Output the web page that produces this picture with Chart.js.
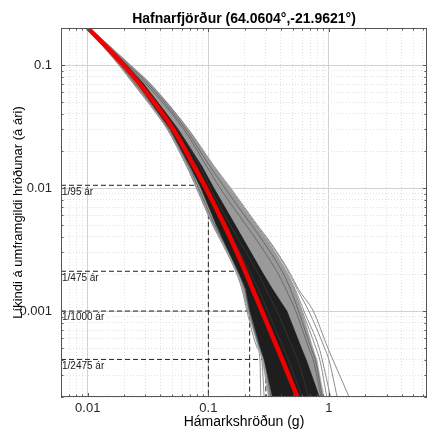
<!DOCTYPE html>
<html><head><meta charset="utf-8">
<script src="https://cdn.jsdelivr.net/npm/chart.js@4.4.1/dist/chart.umd.min.js"></script>
<style>html,body{margin:0;padding:0;background:#fff}canvas{display:block}</style>
</head><body>
<canvas id="c" width="428" height="431"></canvas>
<script>
// ---------- text ----------
const titleText = 'Hafnarfjörður (64.0604°,-21.9621°)';
const xTitle = 'Hámarkshröðun (g)';
const yTitle = 'Líkindi á umframgildi hröðunar (á ári)';

// ---------- axes ----------
const xMin = 0.006, xMax = 6.5, yMin = 0.0002, yMax = 0.2;
const xTickValues = [0.006,0.007,0.008,0.009,0.01,0.02,0.03,0.04,0.05,0.06,0.07,0.08,0.09,0.1,0.2,0.3,0.4,0.5,0.6,0.7,0.8,0.9,1,2,3,4,5,6];
const xLabelValues = [0.01, 0.1, 1];
const xLabelTexts = ['0.01', '0.1', '1'];
const yTickValues = [0.0002,0.0003,0.0004,0.0005,0.0006,0.0007,0.0008,0.0009,0.001,0.002,0.003,0.004,0.005,0.006,0.007,0.008,0.009,0.01,0.02,0.03,0.04,0.05,0.06,0.07,0.08,0.09,0.1,0.2];
const yLabelValues = [0.001, 0.01, 0.1];
const yLabelTexts = ['0.001', '0.01', '0.1'];

// ---------- hazard curves (x in g at each exceedance level) ----------
const yLevels   = [0.2, 0.1, 0.07, 0.03, 0.015, 0.01, 0.005, 0.0035, 0.002, 0.0015, 0.001, 0.0005, 0.0004, 0.0002];
const meanX     = [0.0100, 0.0198, 0.0270, 0.0512, 0.0761, 0.0953, 0.1355, 0.1606, 0.2067, 0.2332, 0.2780, 0.3738, 0.4106, 0.5477];
// envelope of the bundle of branch curves
const outerLowX = [0.0100, 0.0183, 0.0243, 0.0461, 0.0666, 0.0803, 0.1098, 0.1327, 0.1740, 0.1926, 0.2127, 0.2600, 0.2801, 0.3147];
const outerHighX= [0.0104, 0.0222, 0.0327, 0.0676, 0.1090, 0.1480, 0.2478, 0.3239, 0.4568, 0.5222, 0.5969, 0.7366, 0.7951, 0.9090];
const coreLowX  = [0.0100, 0.0191, 0.0260, 0.0483, 0.0705, 0.0867, 0.1163, 0.1378, 0.1808, 0.2039, 0.2210, 0.2701, 0.2910, 0.3397];
const coreHighX = [0.0102, 0.0210, 0.0292, 0.0563, 0.0886, 0.1111, 0.1672, 0.2059, 0.2860, 0.3416, 0.4482, 0.5913, 0.6494, 0.8341];
// individual branch curves visible at the edges
const edgeCurves = [
  [0.0104, 0.0226, 0.0333, 0.0685, 0.112, 0.153, 0.255, 0.335, 0.48, 0.56, 0.74, 0.98, 1.08, 1.47],
  [0.0104, 0.0224, 0.0330, 0.0680, 0.110, 0.150, 0.250, 0.330, 0.47, 0.545, 0.68, 0.92, 1.00, 1.17],
  [0.0103, 0.0222, 0.0327, 0.0670, 0.108, 0.146, 0.245, 0.320, 0.455, 0.525, 0.62, 0.83, 0.88, 1.03],
  [0.0103, 0.0220, 0.0322, 0.0660, 0.105, 0.142, 0.238, 0.310, 0.44, 0.51, 0.60, 0.78, 0.84, 0.96],
  [0.0100, 0.0181, 0.0240, 0.0456, 0.0660, 0.0795, 0.1085, 0.131, 0.172, 0.190, 0.209, 0.255, 0.268, 0.272],
  [0.0100, 0.0182, 0.0244, 0.0462, 0.0668, 0.0805, 0.1100, 0.134, 0.176, 0.195, 0.214, 0.262, 0.278, 0.290]
];
const midCurves = [
  [0.0102, 0.0212, 0.0305, 0.0625, 0.097, 0.125, 0.205, 0.265, 0.38, 0.44, 0.53, 0.68, 0.74, 0.86],
  [0.0103, 0.0218, 0.0318, 0.0650, 0.103, 0.137, 0.228, 0.295, 0.42, 0.48, 0.56, 0.71, 0.77, 0.88],
  [0.0101, 0.0186, 0.0250, 0.0472, 0.069, 0.083, 0.113, 0.137, 0.180, 0.201, 0.219, 0.268, 0.292, 0.33]
];
const darkCurves = [
  [0.0101, 0.0204, 0.0284, 0.0555, 0.085, 0.104, 0.152, 0.188, 0.26, 0.30, 0.37, 0.50, 0.55, 0.68],
  [0.0101, 0.0200, 0.0276, 0.0535, 0.080, 0.098, 0.140, 0.168, 0.225, 0.26, 0.31, 0.42, 0.46, 0.60]
];

// ---------- return-period reference lines ----------
const refLevels = [1/95, 1/475, 1/1000, 1/2475];
const refLabels = ['1/95 ár', '1/475 ár', '1/1000 ár', '1/2475 ár'];
const refX = [0.1, 0.22, 0.30, 0.45];

// ---------- build ----------
const FONT = '"Liberation Sans", Arial, Helvetica, sans-serif';
const pts = xs => xs.map((x, i) => ({x, y: yLevels[i]}));
const poly = (lo, hi) => pts(lo).concat(pts(hi).reverse());
const near = (a, b) => Math.abs(a - b) / b < 1e-6;
const isMajor = v => [0.0001,0.001,0.01,0.1,1,10].some(m => near(v, m));

const datasets = [];
datasets.push({data: pts(meanX), borderColor: '#f00000', borderWidth: 4.5, cubicInterpolationMode: 'monotone', order: 0});
darkCurves.forEach(c => datasets.push({data: pts(c), borderColor: '#333333', borderWidth: 1, cubicInterpolationMode: 'monotone', order: 1}));
datasets.push({data: poly(coreLowX, coreHighX), borderColor: '#1e1e1e', borderWidth: 0.5, backgroundColor: '#1e1e1e', fill: 'shape', tension: 0, order: 2});
midCurves.forEach(c => datasets.push({data: pts(c), borderColor: '#6a6a6a', borderWidth: 1, cubicInterpolationMode: 'monotone', order: 3}));
datasets.push({data: poly(outerLowX, outerHighX), borderColor: '#9a9a9a', borderWidth: 0.5, backgroundColor: '#9a9a9a', fill: 'shape', tension: 0, order: 4});
edgeCurves.forEach(c => datasets.push({data: pts(c), borderColor: '#8c8c8c', borderWidth: 1, cubicInterpolationMode: 'monotone', order: 4}));
refLevels.forEach((lv, i) => datasets.push({
  data: [{x: xMin, y: lv}, {x: refX[i], y: lv}, {x: refX[i], y: yMin}],
  borderColor: '#222', borderWidth: 1, borderDash: [5, 3], tension: 0, order: 5
}));
datasets.forEach(d => { d.pointRadius = 0; d.pointHoverRadius = 0; if (d.fill === undefined) d.fill = false; });

const framePlugin = {
  id: 'frame',
  afterDatasetsDraw(chart) {
    const {ctx, chartArea: a, scales: {x, y}} = chart;
    ctx.save();
    ctx.font = '10px ' + FONT;
    ctx.fillStyle = '#1a1a1a';
    ctx.textBaseline = 'middle';
    ctx.textAlign = 'left';
    refLevels.forEach((lv, i) => ctx.fillText(refLabels[i], a.left + 1, y.getPixelForValue(lv) + 6.5));
    ctx.strokeStyle = '#555';
    ctx.lineWidth = 1;
    ctx.beginPath();
    xTickValues.forEach(v => {
      const p = Math.round(x.getPixelForValue(v)) + 0.5;
      const L = isMajor(v) ? 4 : 2.5;
      ctx.moveTo(p, a.bottom); ctx.lineTo(p, a.bottom - L);
      ctx.moveTo(p, a.top); ctx.lineTo(p, a.top + L);
    });
    yTickValues.forEach(v => {
      const p = Math.round(y.getPixelForValue(v)) + 0.5;
      const L = isMajor(v) ? 4 : 2.5;
      ctx.moveTo(a.left, p); ctx.lineTo(a.left + L, p);
      ctx.moveTo(a.right, p); ctx.lineTo(a.right - L, p);
    });
    ctx.stroke();
    ctx.strokeRect(Math.round(a.left) + 0.5, Math.round(a.top) + 0.5, Math.round(a.right - a.left) - 1, Math.round(a.bottom - a.top) - 1);
    ctx.restore();
  }
};

const gridColor = c => (c.tick && isMajor(c.tick.value)) ? '#d2d2d2' : '#e0e0e0';
const gridDash = c => (c.tick && isMajor(c.tick.value)) ? [] : [1, 2];

new Chart(document.getElementById('c'), {
  type: 'line',
  data: {datasets},
  options: {
    responsive: false,
    animation: false,
    devicePixelRatio: 1,
    layout: {padding: {left: 0, right: 1, top: 0, bottom: 0}},
    plugins: {
      legend: {display: false},
      tooltip: {enabled: false},
      title: {display: true, text: titleText, color: '#000', fullSize: false,
              font: {family: FONT, size: 14, weight: 'bold'}, padding: {top: 11.2, bottom: 0}}
    },
    scales: {
      x: {
        type: 'logarithmic', min: xMin, max: xMax,
        afterBuildTicks: s => { s.ticks = xTickValues.map(v => ({value: v})); },
        afterFit: s => { s.height = 34; },
        ticks: {autoSkip: false, maxRotation: 0, minRotation: 0, padding: 4, color: '#262626',
                font: {family: FONT, size: 13},
                callback: v => { const i = xLabelValues.findIndex(m => near(v, m)); return i >= 0 ? xLabelTexts[i] : ''; }},
        grid: {drawTicks: false, color: gridColor, lineWidth: 1},
        border: {display: false, dash: gridDash},
        title: {display: true, text: xTitle, color: '#000', font: {family: FONT, size: 14}, padding: {top: 0, bottom: 0}}
      },
      y: {
        type: 'logarithmic', min: yMin, max: yMax,
        afterBuildTicks: s => { s.ticks = yTickValues.map(v => ({value: v})); },
        afterFit: s => { s.width = 61; },
        ticks: {autoSkip: false, padding: 9, color: '#262626',
                font: {family: FONT, size: 13},
                callback: v => { const i = yLabelValues.findIndex(m => near(v, m)); return i >= 0 ? yLabelTexts[i] : ''; }},
        grid: {drawTicks: false, color: gridColor, lineWidth: 1},
        border: {display: false, dash: gridDash},
        title: {display: true, text: yTitle, color: '#000', font: {family: FONT, size: 13}, padding: {top: 10.5, bottom: 0}}
      }
    }
  },
  plugins: [framePlugin]
});
</script>
</body></html>
